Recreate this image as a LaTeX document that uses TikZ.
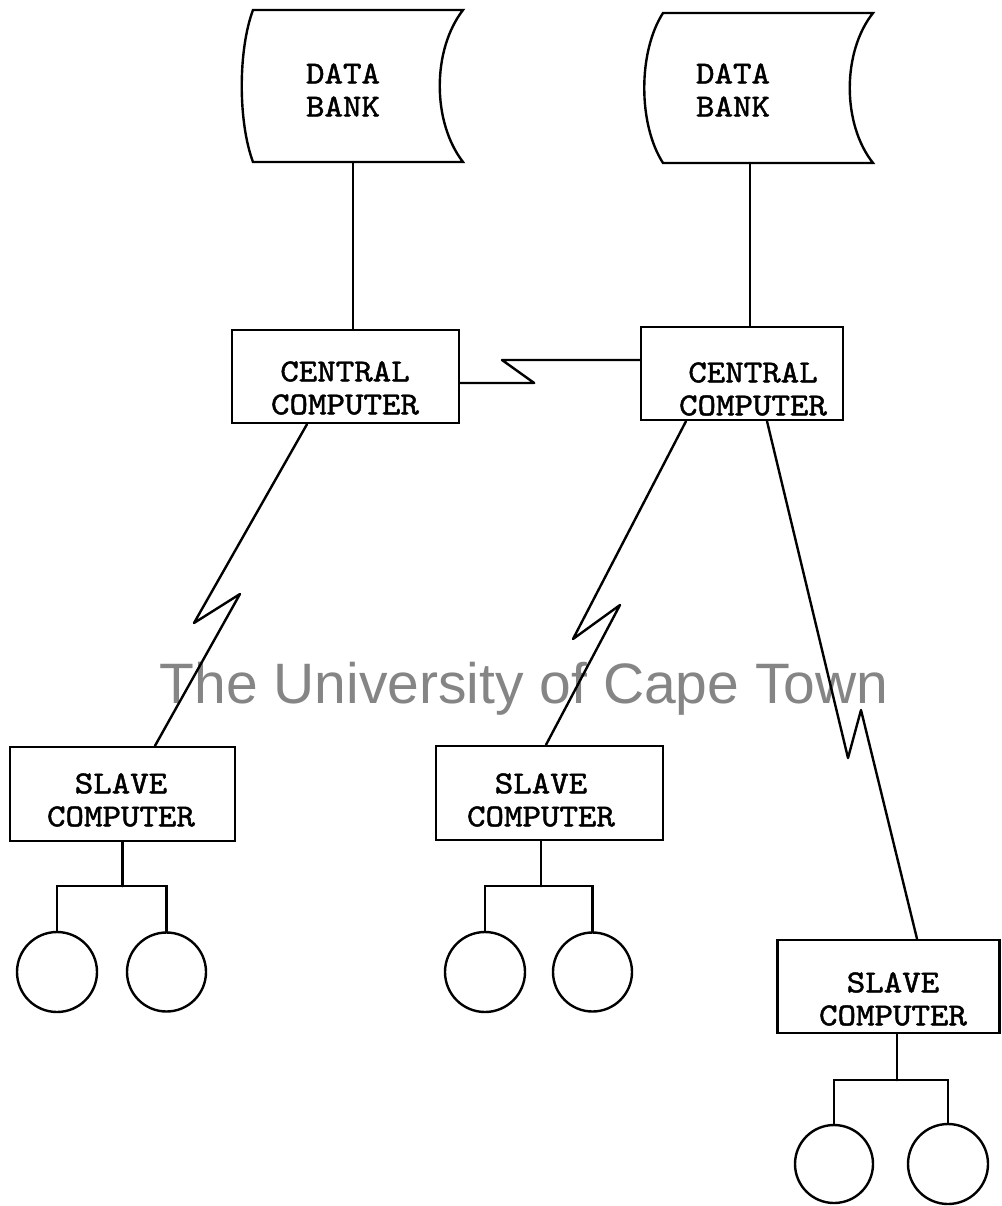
\documentclass[tikz,border=0pt]{standalone}
\usepackage{fontspec}
\newfontfamily\twfont{lmmono10-regular.otf}[FakeBold=1.5,FakeStretch=1.1]
\newfontfamily\wmfont{Liberation Sans}
\begin{document}
\begin{tikzpicture}[x=1pt,y=-1pt,
  conn/.style={line width=2.4pt, line join=round, line cap=round},
  unit/.style={draw, rectangle, line width=2.4pt, inner sep=0pt},
  lbl/.style={font=\twfont\fontsize{32}{33}\selectfont, align=center, inner sep=0pt},
  term/.style={draw, circle, line width=2.4pt, inner sep=0pt, minimum size=#1},
  term/.default=80pt,
  wmark/.style={font=\wmfont\fontsize{57}{60}\selectfont, text=black!48, inner sep=0pt}]
\fill[white] (0,0) rectangle (1001,1206);
\useasboundingbox (0,0) rectangle (1001,1206);

% watermark
\node[wmark, anchor=base] (wm) at (524,703) {The University of Cape Town};

% data banks
\draw[conn, line join=miter] (253,10) -- (463,10) .. controls (432,50) and (432,122) .. (463,162)
  -- (253,162) .. controls (238,122) and (238,50) .. (253,10) -- cycle;
\node[lbl] (db1) at (343,90) {DATA\\BANK};
\draw[conn, line join=miter] (663,13) -- (873,13) .. controls (842,52) and (842,124) .. (873,163)
  -- (663,163) .. controls (638,124) and (638,52) .. (663,13) -- cycle;
\node[lbl] (db2) at (733,90) {DATA\\BANK};

% central computers
\node[unit, minimum width=227pt, minimum height=93pt] (cc1) at (345.5,376.5) {};
\node[lbl] (cc1t) at (345,388) {CENTRAL\\COMPUTER};
\node[unit, minimum width=202pt, minimum height=93pt] (cc2) at (742,373.5) {};
\node[lbl] (cc2t) at (753,389) {CENTRAL\\COMPUTER};

% slave computers
\node[unit, minimum width=225pt, minimum height=94pt] (sl1) at (122.5,794) {};
\node[lbl] (sl1t) at (121,800) {SLAVE\\COMPUTER};
\node[unit, minimum width=227pt, minimum height=94pt] (sl2) at (549.5,793) {};
\node[lbl] (sl2t) at (541,800) {SLAVE\\COMPUTER};
\node[unit, minimum width=222pt, minimum height=93pt] (sl3) at (888.5,986.5) {};
\node[lbl] (sl3t) at (893,999) {SLAVE\\COMPUTER};

% terminals
\node[term] (t1a) at (57,972) {};
\node[term=79pt] (t1b) at (166.5,972) {};
\node[term] (t2a) at (485,972) {};
\node[term=79pt] (t2b) at (592.5,972) {};
\node[term=78pt] (t3a) at (834,1164) {};
\node[term] (t3b) at (948,1164) {};

% data bank links
\coordinate (db1b) at (353,162);
\draw[conn] (db1b) -- (db1b |- cc1.north);
\coordinate (db2b) at (750,163);
\draw[conn] (db2b) -- (db2b |- cc2.north);

% link between central computers
\draw[conn] ([yshift=-6.5pt]cc1.east) -- ++(74,0) -- (502,360) -- ([yshift=13.5pt]cc2.west);

% links to slave computers
\draw[conn] ([xshift=-38.5pt]cc1.south) -- (194,623) -- (240,594) -- ([xshift=32.5pt]sl1.north);
\draw[conn] ([xshift=-56pt]cc2.south) -- (573,639) -- (620,605) -- ([xshift=-3.5pt]sl2.north);
\draw[conn] ([xshift=25pt]cc2.south) -- (848,758) -- (861,710) -- ([xshift=28.5pt]sl3.north);

% terminal trees
\draw[conn] (sl1.south) -- ++(0,44) coordinate (j1);
\draw[conn, line join=miter] (t1a.north) |- (j1) -| (t1b.north);
\draw[conn] ([xshift=-8.5pt]sl2.south) -- ++(0,45) coordinate (j2);
\draw[conn, line join=miter] (t2a.north) |- (j2) -| (t2b.north);
\draw[conn] ([xshift=8.5pt]sl3.south) -- ++(0,46) coordinate (j3);
\draw[conn, line join=miter] (t3a.north) |- (j3) -| (t3b.north);
\end{tikzpicture}
\end{document}
